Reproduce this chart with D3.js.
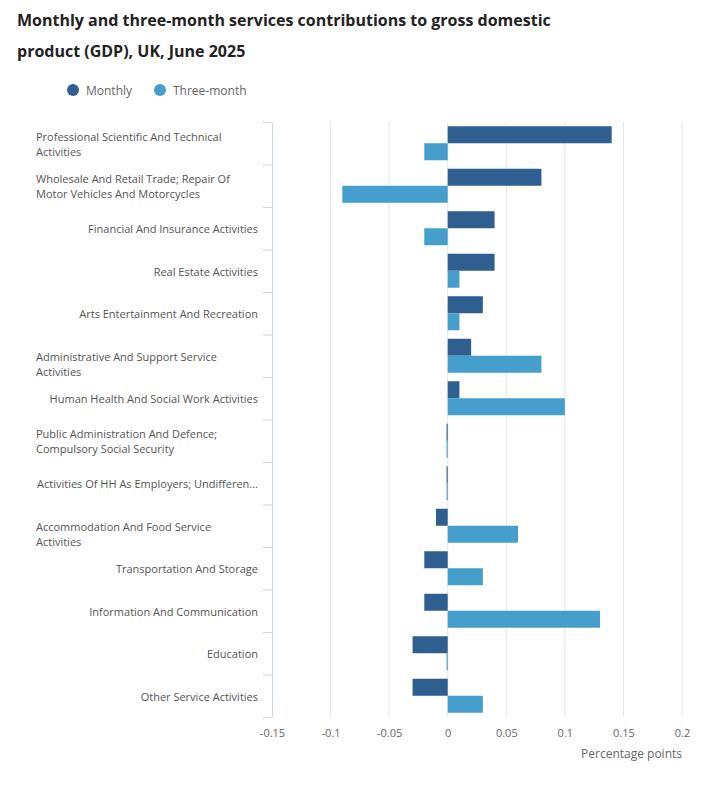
<!DOCTYPE html>
<html>
<head>
<meta charset="utf-8">
<script src="https://cdn.jsdelivr.net/npm/d3@7"></script>
<style>
  body { margin: 0; background: #fff; font-family: "Open Sans", sans-serif; }
</style>
</head>
<body>
<svg width="713" height="787"></svg>
<script>
const categories = [
    "Professional Scientific And Technical Activities",
    "Wholesale And Retail Trade; Repair Of Motor Vehicles And Motorcycles",
    "Financial And Insurance Activities",
    "Real Estate Activities",
    "Arts Entertainment And Recreation",
    "Administrative And Support Service Activities",
    "Human Health And Social Work Activities",
    "Public Administration And Defence; Compulsory Social Security",
    "Activities Of HH As Employers; Undifferen...",
    "Accommodation And Food Service Activities",
    "Transportation And Storage",
    "Information And Communication",
    "Education",
    "Other Service Activities"
];
const monthly = [0.14, 0.08, 0.04, 0.04, 0.03, 0.02, 0.01, -0.001, -0.001, -0.01, -0.02, -0.02, -0.03, -0.03];
const threeMonth = [-0.02, -0.09, -0.02, 0.01, 0.01, 0.08, 0.1, -0.001, -0.001, 0.06, 0.03, 0.13, -0.001, 0.03];
const xTicks = [-0.15, -0.1, -0.05, 0, 0.05, 0.1, 0.15, 0.2];
const seriesNames = ["Monthly", "Three-month"];
const seriesColors = ["#2f5f91", "#459ecb"];

const svg = d3.select("svg");
const margin = {left: 272, right: 31, top: 122, bottom: 70};
const width = 713, height = 787;

// title
const title = svg.append("g").attr("font-weight", 700).attr("font-size", 16).attr("fill", "#222");
title.append("text").attr("x", 17).attr("y", 26).text("Monthly and three-month services contributions to gross domestic");
title.append("text").attr("x", 17).attr("y", 57).text("product (GDP), UK, June 2025");

// legend
const legend = svg.append("g").attr("font-size", 12).attr("fill", "#666");
[[73, 0], [160, 1]].forEach(function(p) {
    legend.append("circle").attr("cx", p[0]).attr("cy", 90).attr("r", 6).attr("fill", seriesColors[p[1]]);
    legend.append("text").attr("x", p[0] + 13).attr("y", 95).text(seriesNames[p[1]]);
});

const x = d3.scaleLinear().domain([-0.15, 0.2]).range([margin.left, width - margin.right]);
const y = d3.scaleBand().domain(categories).range([margin.top, height - margin.bottom]);
const inner = d3.scaleBand().domain([0, 1]).range([0, y.bandwidth()]).paddingOuter(0.25);

// gridlines
svg.append("g").selectAll("line").data(xTicks.slice(1)).join("line")
    .attr("x1", d => x(d)).attr("x2", d => x(d))
    .attr("y1", margin.top).attr("y2", height - margin.bottom)
    .attr("stroke", "#e6e6e6").attr("stroke-width", 1);

// x axis labels
const xAxis = svg.append("g")
    .attr("transform", `translate(0,${height - margin.bottom})`)
    .call(d3.axisBottom(x).tickValues(xTicks).tickSize(0).tickPadding(12).tickFormat(d => String(d)));
xAxis.select(".domain").remove();
xAxis.selectAll("text").attr("font-family", "Open Sans").attr("font-size", 11).attr("fill", "#666");

svg.append("text").attr("x", width - margin.right).attr("y", 758)
    .attr("text-anchor", "end").attr("font-size", 12).attr("fill", "#666")
    .text("Percentage points");

// y axis
const yAxis = svg.append("g")
    .attr("transform", `translate(${margin.left},0)`)
    .call(d3.axisLeft(y).tickSize(0).tickFormat(""));
yAxis.select(".domain").attr("stroke", "#ccd6eb");
const tickPos = categories.map(c => y(c)).concat([y.range()[1]]);
yAxis.append("g").selectAll("line").data(tickPos).join("line")
    .attr("x1", -9).attr("x2", 0).attr("y1", d => d + 0.5).attr("y2", d => d + 0.5)
    .attr("stroke", "#ccd6eb");

// category labels, wrapped to 222px (some wrapped labels sit lower, as in the source)
const labelW = 222, labelRight = margin.left - 14;
const lowered = {5: 8, 9: 8};
const labels = svg.append("g").attr("font-size", 11).attr("fill", "#555");
categories.forEach(function(c, idx) {
    const cy = y(c) + y.bandwidth() / 2;
    const t = labels.append("text").attr("x", labelRight).attr("text-anchor", "end").text(c);
    if (t.node().getComputedTextLength() <= labelW) {
        t.attr("y", cy + 5);
        return;
    }
    t.text(null).attr("text-anchor", "start").attr("x", labelRight - labelW);
    const words = c.split(" ");
    const lines = [];
    let line = [];
    const probe = labels.append("text");
    words.forEach(function(w) {
        line.push(w);
        probe.text(line.join(" "));
        if (probe.node().getComputedTextLength() > labelW && line.length > 1) {
            line.pop();
            lines.push(line.join(" "));
            line = [w];
        }
    });
    lines.push(line.join(" "));
    probe.remove();
    const dy = 5 + (lowered[idx] || 0);
    lines.forEach(function(l, i) {
        t.append("tspan").attr("x", labelRight - labelW)
            .attr("y", cy + dy + (i - (lines.length - 1) / 2) * 15).text(l);
    });
});

// bars
[monthly, threeMonth].forEach(function(vals, s) {
    svg.append("g").selectAll("rect").data(vals).join("rect")
        .attr("x", d => x(Math.min(0, d)))
        .attr("width", d => Math.max(1, Math.abs(x(d) - x(0))))
        .attr("y", (d, i) => y(categories[i]) + inner(s))
        .attr("height", inner.bandwidth())
        .attr("fill", seriesColors[s]);
});
</script>
</body>
</html>
